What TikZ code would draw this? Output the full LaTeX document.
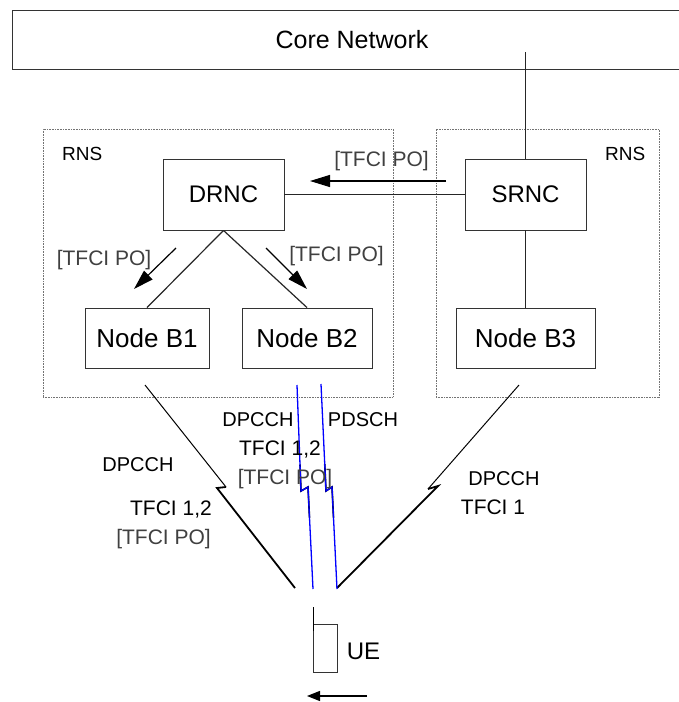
\documentclass[tikz,border=0pt]{standalone}
\usepackage{fontspec}
\setmainfont{Liberation Sans}
\usetikzlibrary{arrows.meta, positioning, calc}
\tikzset{
  unit/.style={rectangle, draw=black!80, line width=0.9pt, inner sep=0pt,
               align=center, font=\fontsize{24}{28}\selectfont},
  nodeb/.style={unit, minimum height=60pt, font=\fontsize{26}{30}\selectfont},
  rns/.style={rectangle, draw=black!55, dash pattern=on 0.8pt off 0.8pt,
              line width=0.9pt, inner sep=0pt},
  lbl/.style={font=\fontsize{20}{24}\selectfont, inner sep=0pt},
  po/.style={lbl, font=\fontsize{21}{24}\selectfont, text=black!75},
  link/.style={draw=black!85, line width=1.2pt},
  sig/.style={-{Triangle[length=20pt,width=12pt]}, draw=black, line width=1.2pt},
  radio/.style={draw=black, line width=1pt},
  bolt/.style={draw=black, line width=1.8pt},
  bradio/.style={draw=blue, line width=1.3pt},
}

\begin{document}
\begin{tikzpicture}[x=1pt, y=-1pt]
\useasboundingbox (0,0) rectangle (679,702);

\node[unit, minimum width=680pt, minimum height=59pt, font=\fontsize{25}{30}\selectfont] (core) at (352,39.5) {Core Network};

% radio network subsystems
\node[rns, minimum width=350pt, minimum height=268pt] (rnsL) at (218,263) {};
\node[rns, minimum width=223pt, minimum height=268pt] (rnsR) at (547.5,263) {};
\node[lbl, font=\fontsize{19}{22}\selectfont, anchor=base west] (rnsLt) at (62,160) {RNS};
\node[lbl, font=\fontsize{19}{22}\selectfont, anchor=base west] (rnsRt) at (605,160) {RNS};

\node[unit, minimum width=121pt, minimum height=71pt] (drnc) at (223.5,194.5) {DRNC};
\node[unit, minimum width=121pt, minimum height=71pt] (srnc) at (525.5,194.5) {SRNC};
\node[nodeb, minimum width=124pt] (nb1) at (147,338) {Node B1};
\node[nodeb, minimum width=130pt] (nb2) at (307,338) {Node B2};
\node[nodeb, minimum width=139pt] (nb3) at (525.5,338) {Node B3};

\coordinate (cn) at (525.5,52);
\draw[link] (cn) -- (srnc.north);
\draw[link] (drnc.east) -- (srnc.west);
\draw[link] (drnc.south) -- (nb1.north);
\draw[link] (drnc.south) -- (nb2.north);
\draw[link] (srnc.south) -- (nb3.north);

% TFCI PO signalling
\coordinate (s0) at (446,181);
\coordinate (s1) at (310,181);
\coordinate (l0) at (176,248);
\coordinate (l1) at (134,289);
\coordinate (r0) at (266,248);
\coordinate (r1) at (307,289);
\draw[sig] (s0) -- (s1);
\draw[sig] (l0) -- (l1);
\draw[sig] (r0) -- (r1);
\node[po, anchor=base] (pos) at (381.5,166) {[TFCI PO]};
\node[po, anchor=base] (pol) at (104,265) {[TFCI PO]};
\node[po, anchor=base] (por) at (336.5,261) {[TFCI PO]};

% UE
\node[rectangle, draw=black!80, line width=0.9pt, minimum width=24pt, minimum height=48pt, inner sep=0pt] (ue) at (325,648) {};
\coordinate (ant) at (313,607);
\draw[draw=black, line width=1pt] (ant) -- (313,631);
\node[lbl, font=\fontsize{24}{28}\selectfont, anchor=base] (uet) at (363.5,659.5) {UE};
\coordinate (m0) at (367,696);
\coordinate (m1) at (307,696);
\draw[-{Triangle[length=13pt,width=10pt]}, draw=black, line width=1.2pt] (m0) -- (m1);

% radio links
\coordinate (a0) at (145,385);
\coordinate (ap) at (226,487);
\coordinate (aq) at (217,488);
\coordinate (a1) at (295,588);
\draw[radio] (a0) -- (ap);
\draw[bolt] (ap) -- (aq) -- (a1);

\coordinate (c0) at (519,385);
\coordinate (cp) at (428,489);
\coordinate (cq) at (438,486);
\coordinate (c1) at (337,588);
\draw[radio] (c0) -- (cp);
\draw[bolt] (cp) -- (cq) -- (c1);

\coordinate (d0) at (297,385);
\coordinate (dp) at (301,491);
\coordinate (dq) at (308,487);
\coordinate (d1) at (313,589);
\draw[bolt, line width=1.6pt] ($(d0)!0.75!(dp)$) -- (dp) -- (dq) -- ($(dq)!0.3!(d1)$);
\draw[bradio] (d0) -- (dp) -- (dq) -- (d1);

\coordinate (e0) at (321,384);
\coordinate (ep) at (326,491);
\coordinate (eq) at (332,487);
\coordinate (e1) at (337,589);
\draw[bolt, line width=1.6pt] ($(e0)!0.75!(ep)$) -- (ep) -- (eq) -- ($(eq)!0.3!(e1)$);
\draw[bradio] (e0) -- (ep) -- (eq) -- (e1);

% channel labels
\node[lbl, anchor=base] (la) at (138,471) {DPCCH};
\node[lbl, font=\fontsize{21}{24}\selectfont, anchor=base east] (lb) at (212,515.5) {TFCI 1,2};
\node[po, anchor=base east] (lc) at (211,544) {[TFCI PO]};
\node[lbl, anchor=base] (ma) at (258,426) {DPCCH};
\node[lbl, font=\fontsize{21}{24}\selectfont, anchor=base] (mb) at (280,455.5) {TFCI 1,2};
\node[po, anchor=base] (mc) at (285,484) {[TFCI PO]};
\node[lbl, anchor=base] (md) at (363,426) {PDSCH};
\node[lbl, anchor=base] (ra) at (504,485) {DPCCH};
\node[lbl, font=\fontsize{21}{24}\selectfont, anchor=base] (rb) at (493,514.5) {TFCI 1};

\end{tikzpicture}
\end{document}
